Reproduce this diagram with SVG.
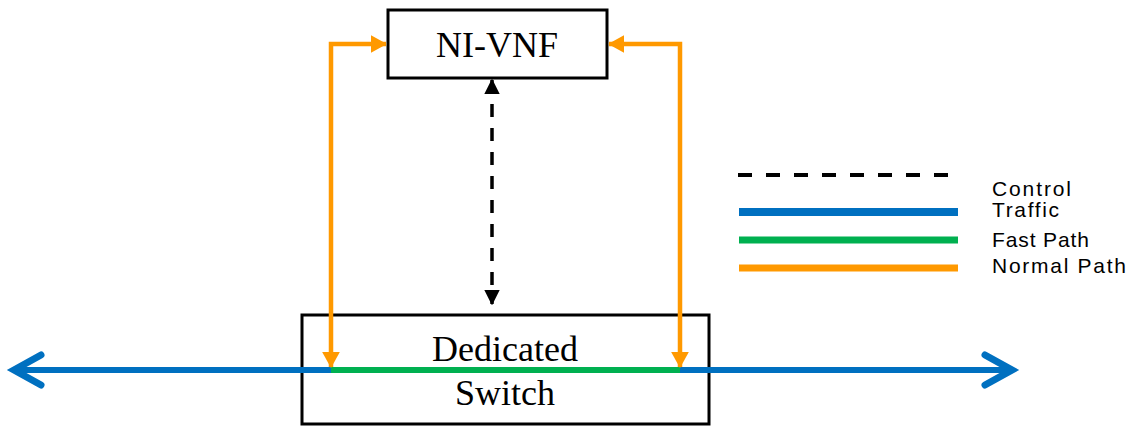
<svg xmlns="http://www.w3.org/2000/svg" width="1133" height="426" viewBox="0 0 1133 426">
<style>
.box{fill:#fff;stroke:#000;stroke-width:3}
.lbl{font-family:"Liberation Serif","Times New Roman",serif;font-size:36px;fill:#000;text-anchor:middle}
.leg{font-family:"Liberation Sans",Arial,sans-serif;font-size:21px;fill:#000}
.orange{fill:none;stroke:#FF9900;stroke-width:4.5}
.blue{fill:none;stroke:#0070C0;stroke-width:6}
.green{fill:none;stroke:#00B050;stroke-width:6}
.chev{fill:none;stroke:#0070C0;stroke-width:7;stroke-linecap:round;stroke-linejoin:miter}
.dash{stroke:#000;stroke-width:3.5;stroke-dasharray:13,11}
</style>
<defs>
<marker id="ao" markerWidth="4" markerHeight="4" refX="3.4" refY="2" orient="auto-start-reverse" markerUnits="strokeWidth">
<path d="M0,0 L3.6,2 L0,4 z" fill="#FF9900"/>
</marker>
<marker id="ak" markerWidth="4.4" markerHeight="4.4" refX="4" refY="2.2" orient="auto-start-reverse" markerUnits="strokeWidth">
<path d="M0,0 L4.4,2.2 L0,4.4 z" fill="#000"/>
</marker>
</defs>
<g id="ni-vnf">
<rect class="box" x="388" y="10" width="219" height="68"/>
<text class="lbl" x="497" y="57">NI-VNF</text>
</g>
<g id="switch">
<rect class="box" x="302" y="315" width="407" height="109"/>
<text class="lbl" x="505" y="361">Dedicated</text>
<text class="lbl" x="505" y="405">Switch</text>
</g>
<g id="connectors">
<path class="blue" d="M16,370 L331,370"/>
<path class="blue" d="M680,370 L1009,370"/>
<path class="chev" d="M41,355 L14,370 L41,385"/>
<path class="chev" d="M985,355 L1012,370 L985,385"/>
<path class="green" d="M331,370 L680,370"/>
<path class="orange" d="M331,367 L331,44 L386,44" marker-start="url(#ao)" marker-end="url(#ao)"/>
<path class="orange" d="M680,367 L680,44 L609,44" marker-start="url(#ao)" marker-end="url(#ao)"/>
<line class="dash" x1="492" y1="80" x2="492" y2="304" marker-start="url(#ak)" marker-end="url(#ak)"/>
</g>
<g id="legend">
<line x1="738" y1="175" x2="952" y2="175" stroke="#000" stroke-width="4" stroke-dasharray="14,14"/>
<line x1="739" y1="212" x2="958" y2="212" stroke="#0070C0" stroke-width="8"/>
<line x1="739" y1="240" x2="958" y2="240" stroke="#00B050" stroke-width="7"/>
<line x1="739" y1="268" x2="958" y2="268" stroke="#FF9900" stroke-width="7"/>
<text class="leg" x="992" y="196" textLength="79" lengthAdjust="spacing">Control</text>
<text class="leg" x="992" y="217" textLength="67" lengthAdjust="spacing">Traffic</text>
<text class="leg" x="992" y="247" textLength="97" lengthAdjust="spacing">Fast Path</text>
<text class="leg" x="992" y="273" textLength="134" lengthAdjust="spacing">Normal Path</text>
</g>
</svg>
